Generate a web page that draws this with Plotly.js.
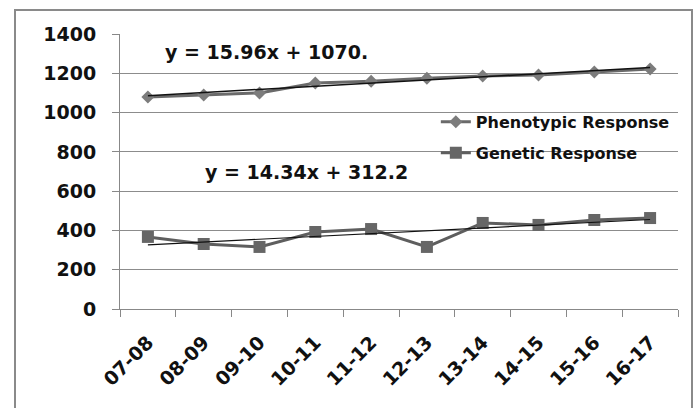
<!DOCTYPE html>
<html>
<head>
<meta charset="utf-8">
<script src="https://cdn.plot.ly/plotly-3.0.1.min.js"></script>
<style>
html,body{margin:0;padding:0;background:#fff;}
#wrap{position:relative;width:699px;height:408px;overflow:hidden;}
#chart{width:699px;height:408px;}
#frame{position:absolute;left:14px;top:9px;width:679px;height:420px;border:2px solid #8a8a8a;pointer-events:none;box-sizing:border-box;}
</style>
</head>
<body>
<div id="wrap"><div id="chart"></div><div id="frame"></div></div>
<script>
// Data
const categories = ["07-08","08-09","09-10","10-11","11-12","12-13","13-14","14-15","15-16","16-17"];
const phenotypic = [1079, 1090, 1100, 1150, 1160, 1175, 1186, 1191, 1207, 1222];
const genetic = [367, 331, 316, 392, 407, 316, 438, 428, 453, 463];
// Trendline equations shown on the chart: y = slope*x + intercept
const phenoTrend = [15.96, 1070];
const geneticTrend = [14.34, 312.2];
const yTicks = [0, 200, 400, 600, 800, 1000, 1200, 1400];
const eqLabels = ["y = 15.96x + 1070.", "y = 14.34x + 312.2"];

const trendVals = (c) => categories.map((_, i) => c[0] * (i + 1) + c[1]);

const FONT = "DejaVu Sans, Arial, sans-serif";

const traces = [
  {
    x: categories, y: phenotypic, name: "Phenotypic Response", type: "scatter", mode: "lines+markers",
    line: {color: "#6a6a6a", width: 3},
    marker: {symbol: "diamond", size: 10, color: "#7c7c7c"},
    legendgroup: "a"
  },
  {
    x: categories, y: genetic, name: "Genetic Response", type: "scatter", mode: "lines+markers",
    line: {color: "#5e5e5e", width: 3},
    marker: {symbol: "square", size: 12, color: "#666666"},
    legendgroup: "b"
  },
  {
    x: categories, y: trendVals(phenoTrend), type: "scatter", mode: "lines",
    line: {color: "#111111", width: 1.5}, showlegend: false, hoverinfo: "skip"
  },
  {
    x: categories, y: trendVals(geneticTrend), type: "scatter", mode: "lines",
    line: {color: "#111111", width: 1.2}, showlegend: false, hoverinfo: "skip"
  }
];

const layout = {
  width: 699, height: 408,
  margin: {l: 120, r: 21, t: 34, b: 99},
  paper_bgcolor: "#ffffff", plot_bgcolor: "#ffffff",
  font: {family: FONT, color: "#111111"},
  showlegend: true,
  legend: {
    x: 0.566, y: 0.742, xanchor: "left", yanchor: "top",
    bgcolor: "rgba(0,0,0,0)", borderwidth: 0,
    font: {family: FONT, size: 16, color: "#111111", weight: "bold"},
    traceorder: "grouped", tracegroupgap: 7
  },
  xaxis: {
    type: "category",
    tickmode: "array", tickvals: categories, ticktext: categories,
    tickson: "boundaries", ticks: "outside", ticklen: 7, tickcolor: "#888888",
    showline: true, linecolor: "#888888", linewidth: 1,
    showgrid: false, zeroline: false,
    tickangle: -45,
    ticklabelstandoff: 14,
    tickfont: {family: FONT, size: 19, color: "#111111", weight: "bold"},
    range: [-0.5, 9.5]
  },
  yaxis: {
    range: [0, 1400],
    tickmode: "array", tickvals: yTicks,
    ticks: "outside", ticklen: 7, tickcolor: "#888888",
    showline: true, linecolor: "#888888", linewidth: 1,
    showgrid: true, gridcolor: "#8c8c8c", gridwidth: 1,
    zeroline: false,
    ticklabelstandoff: 12,
    tickfont: {family: FONT, size: 19, color: "#111111", weight: "bold"}
  },
  annotations: [
    {xref: "paper", yref: "y", x: 0.077, y: 1308, xanchor: "left", yanchor: "middle",
     text: eqLabels[0], showarrow: false,
     font: {family: FONT, size: 19, color: "#111111", weight: "bold"}},
    {xref: "paper", yref: "y", x: 0.149, y: 697, xanchor: "left", yanchor: "middle",
     text: eqLabels[1], showarrow: false,
     font: {family: FONT, size: 19, color: "#111111", weight: "bold"}}
  ]
};

Plotly.newPlot("chart", traces, layout, {displayModeBar: false, staticPlot: true});
</script>
</body>
</html>
